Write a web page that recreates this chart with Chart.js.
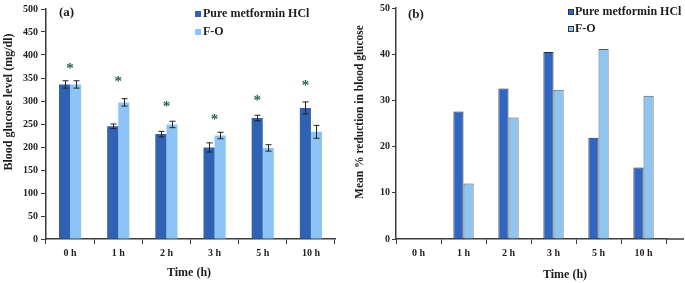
<!DOCTYPE html>
<html><head><meta charset="utf-8">
<script src="https://cdn.jsdelivr.net/npm/chart.js@4.4.0/dist/chart.umd.min.js"></script>
<style>
html,body{margin:0;padding:0;background:#fff;overflow:hidden}
#wrap{position:relative;width:685px;height:283px;background:#fff}
.pane{position:absolute;top:0;height:283px}
</style></head><body>
<div id="wrap">
<div class="pane" style="left:0;width:342px"><canvas id="ca" width="342" height="283"></canvas></div>
<div class="pane" style="left:342px;width:343px"><canvas id="cb" width="343" height="283"></canvas></div>
</div>
<script>
// ---------- data ----------
const timeLabels = ['0 h', '1 h', '2 h', '3 h', '5 h', '10 h'];
const seriesNames = ['Pure metformin HCl', 'F-O'];
// panel (a): blood glucose level (mg/dl)
const glucosePure    = [336, 245, 228, 199, 263, 285];
const glucosePureErr = [8, 5, 6, 10, 6, 13];
const glucoseFO      = [336, 297, 249, 225, 198, 233];
const glucoseFOErr   = [8, 8, 7, 7, 7, 14];
// significance markers (*) height in mg/dl and which bar they sit over
const starValues = [374, 345, 291, 263, 304, 338];
const starAnchor = ['pair', 'pair', 'pair', 'pair', 'pure', 'pure'];
// panel (b): mean % reduction in blood glucose
const reductionPure = [0, 27.6, 32.6, 40.5, 21.9, 15.5];
const reductionFO   = [0, 12.0, 26.3, 32.3, 41.1, 31.0];
// axis tick settings
const glucoseAxis   = {min: 0, max: 500, step: 50};
const reductionAxis = {min: 0, max: 50, step: 10};
const panelTitles = ['(a)', '(b)'];
const yTitles = ['Blood glucose level (mg/dl)', 'Mean % reduction in blood glucose'];
const xTitle = 'Time (h)';

// ---------- styles ----------
const FAM = '"Liberation Serif", "Times New Roman", serif';
const AXIS = '#3c3c3c';
const DARK = '#2F62B3';
const LIGHT = '#8CC4F5';
const TXT = '#1e1e1e';

function scaleX(tickPad) {
  return {
    offset: true,
    grid: {display: true, offset: true, drawOnChartArea: false, drawTicks: true, tickLength: 5, color: AXIS, lineWidth: 1},
    border: {display: true, color: AXIS, width: 1.5},
    ticks: {font: {family: FAM, size: 10, weight: 'bold'}, color: TXT, padding: tickPad, maxRotation: 0, autoSkip: false},
    afterFit: s => { s.height = 44; }
  };
}
function scaleY(ax, w, tl, pad) {
  return {
    min: ax.min, max: ax.max,
    grid: {display: true, drawOnChartArea: false, drawTicks: true, tickLength: tl, color: AXIS, lineWidth: 1},
    border: {display: true, color: AXIS, width: 1.5},
    ticks: {stepSize: ax.step, font: {family: FAM, size: 10, weight: 'bold'}, color: TXT, padding: pad},
    afterFit: s => { s.width = w; }
  };
}

function deco(cfg) {
  return {
    id: 'deco',
    afterDraw(chart) {
      const ctx = chart.ctx;
      ctx.save();
      ctx.fillStyle = TXT;
      // panel label
      ctx.font = 'bold 13px ' + FAM;
      ctx.textAlign = 'left'; ctx.textBaseline = 'middle';
      ctx.fillText(cfg.panel, cfg.panelPos[0], cfg.panelPos[1]);
      // legend
      ctx.font = 'bold 12px ' + FAM;
      chart.data.datasets.forEach((ds, i) => {
        const lx = cfg.legendPos[0], ly = cfg.legendPos[1] + i * cfg.legendGap;
        ctx.fillStyle = ds.backgroundColor;
        ctx.fillRect(lx, ly - 3, 6, 6);
        if (cfg.legendBorder) {
          ctx.strokeStyle = '#333'; ctx.lineWidth = 1;
          ctx.strokeRect(lx + 0.5, ly - 2.5, 5, 5);
        }
        ctx.fillStyle = TXT;
        ctx.fillText(ds.label, lx + cfg.legendTextGap, ly);
      });
      // axis titles
      ctx.textAlign = 'center';
      ctx.font = 'bold ' + cfg.yTitleSize + 'px ' + FAM;
      ctx.save();
      ctx.translate(cfg.yTitlePos[0], cfg.yTitlePos[1]);
      ctx.rotate(-Math.PI / 2);
      ctx.fillText(cfg.yTitle, 0, 0);
      ctx.restore();
      ctx.font = 'bold 12px ' + FAM;
      ctx.fillText(cfg.xTitle, cfg.xTitlePos[0], cfg.xTitlePos[1]);
      // extend x axis line
      if (cfg.extendAxis) {
        const a = chart.chartArea;
        ctx.strokeStyle = AXIS; ctx.lineWidth = 1.5;
        ctx.beginPath();
        ctx.moveTo(a.right, a.bottom); ctx.lineTo(chart.width - 1, a.bottom);
        ctx.stroke();
      }
      ctx.restore();
    }
  };
}

function errorBars(errs) {
  return {
    id: 'errbars',
    afterDatasetsDraw(chart) {
      const ctx = chart.ctx, y = chart.scales.y;
      ctx.save();
      ctx.strokeStyle = '#222'; ctx.lineWidth = 1;
      errs.forEach((arr, di) => {
        const meta = chart.getDatasetMeta(di);
        const vals = chart.data.datasets[di].data;
        meta.data.forEach((el, i) => {
          const yt = y.getPixelForValue(vals[i] + arr[i]);
          const yb = y.getPixelForValue(vals[i] - arr[i]);
          const x = Math.round(el.x) + 0.5;
          ctx.beginPath();
          ctx.moveTo(x, yt); ctx.lineTo(x, yb);
          ctx.moveTo(x - 3, yt); ctx.lineTo(x + 3, yt);
          ctx.moveTo(x - 3, yb); ctx.lineTo(x + 3, yb);
          ctx.stroke();
        });
      });
      ctx.restore();
    }
  };
}

const starPlugin = {
  id: 'stars',
  afterDatasetsDraw(chart) {
    const ctx = chart.ctx, y = chart.scales.y;
    const m0 = chart.getDatasetMeta(0), m1 = chart.getDatasetMeta(1);
    ctx.save();
    ctx.fillStyle = '#2c5d55';
    ctx.font = 'bold 15px ' + FAM;
    ctx.textAlign = 'center'; ctx.textBaseline = 'alphabetic';
    starValues.forEach((v, i) => {
      const x = starAnchor[i] === 'pure' ? m0.data[i].x : (m0.data[i].x + m1.data[i].x) / 2;
      ctx.fillText('*', x, y.getPixelForValue(v) + 6);
    });
    ctx.restore();
  }
};

new Chart(document.getElementById('ca'), {
  type: 'bar',
  data: {
    labels: timeLabels,
    datasets: [
      {label: seriesNames[0], data: glucosePure, backgroundColor: DARK, borderWidth: 0, categoryPercentage: 0.46, barPercentage: 1.0},
      {label: seriesNames[1], data: glucoseFO, backgroundColor: LIGHT, borderWidth: 0, categoryPercentage: 0.46, barPercentage: 1.0}
    ]
  },
  options: {
    responsive: false, animation: false,
    layout: {padding: {left: 0, right: 7, top: 5, bottom: 0}},
    plugins: {legend: {display: false}, tooltip: {enabled: false}},
    scales: {x: scaleX(3), y: scaleY(glucoseAxis, 46, 5, 3)}
  },
  plugins: [errorBars([glucosePureErr, glucoseFOErr]), starPlugin, deco({
    panel: panelTitles[0], panelPos: [59, 13],
    legendPos: [195, 14], legendGap: 18, legendTextGap: 8, legendBorder: false,
    yTitle: yTitles[0], yTitlePos: [9, 102], yTitleSize: 12,
    xTitle: xTitle, xTitlePos: [189, 273]
  })]
});

new Chart(document.getElementById('cb'), {
  type: 'bar',
  data: {
    labels: timeLabels,
    datasets: [
      {label: seriesNames[0], data: reductionPure, backgroundColor: '#2E66C2', borderColor: '#2a2a3a', borderWidth: 1, categoryPercentage: 0.45, barPercentage: 1.0},
      {label: seriesNames[1], data: reductionFO, backgroundColor: '#8DC6F3', borderColor: '#555', borderWidth: 1, categoryPercentage: 0.45, barPercentage: 1.0}
    ]
  },
  options: {
    responsive: false, animation: false,
    layout: {padding: {left: 0, right: 19, top: 5, bottom: 0}},
    plugins: {legend: {display: false}, tooltip: {enabled: false}},
    scales: {x: scaleX(3), y: scaleY(reductionAxis, 54, 4, 2)}
  },
  plugins: [deco({
    panel: panelTitles[1], panelPos: [66, 15],
    legendPos: [226, 12], legendGap: 17, legendTextGap: 7, legendBorder: true,
    yTitle: yTitles[1], yTitlePos: [18, 112], yTitleSize: 11.5,
    xTitle: xTitle, xTitlePos: [223, 275], extendAxis: true
  })]
});
</script>
</body></html>
